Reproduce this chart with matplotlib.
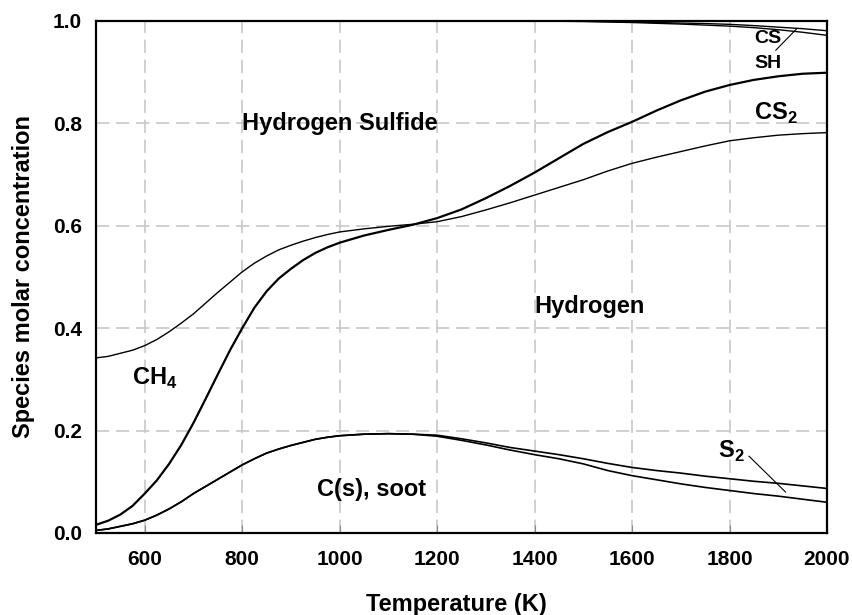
import numpy as np
import matplotlib.pyplot as plt

plt.rcParams['font.family'] = ['Liberation Sans', 'DejaVu Sans']
plt.rcParams['font.weight'] = 'bold'
plt.rcParams['mathtext.fontset'] = 'custom'
plt.rcParams['mathtext.rm'] = 'Liberation Sans:bold'
plt.rcParams['mathtext.bf'] = 'Liberation Sans:bold'

# temperature grid (K): finer where the curves bend most
temp = list(range(500, 1000, 25)) + list(range(1000, 2001, 50))

# cumulative molar fractions, bottom to top
soot = [0.005, 0.008, 0.013, 0.018, 0.025, 0.035, 0.047, 0.061, 0.077, 0.091,
        0.105, 0.119, 0.133, 0.145, 0.156, 0.164, 0.171, 0.177, 0.183, 0.187, 0.190,
        0.193, 0.194, 0.193, 0.189, 0.181, 0.172, 0.162, 0.153, 0.145, 0.135,
        0.122, 0.112, 0.104, 0.096, 0.089, 0.083, 0.077, 0.072, 0.066, 0.060]
s2_top = [0.005, 0.008, 0.013, 0.018, 0.025, 0.035, 0.047, 0.061, 0.077, 0.091,
          0.105, 0.119, 0.133, 0.145, 0.156, 0.164, 0.171, 0.177, 0.183, 0.187, 0.190,
          0.193, 0.194, 0.193, 0.191, 0.184, 0.176, 0.167, 0.160, 0.153, 0.145,
          0.136, 0.128, 0.122, 0.117, 0.111, 0.106, 0.101, 0.097, 0.092, 0.087]
steep = [0.016, 0.024, 0.036, 0.053, 0.077, 0.103, 0.135, 0.172, 0.215, 0.262,
         0.310, 0.357, 0.400, 0.440, 0.472, 0.497, 0.516, 0.533, 0.547, 0.558, 0.567,
         0.581, 0.592, 0.602, 0.615, 0.632, 0.654, 0.678, 0.704, 0.732, 0.760,
         0.783, 0.803, 0.825, 0.845, 0.862, 0.875, 0.885, 0.892, 0.897, 0.899]
upper = [0.342, 0.345, 0.351, 0.357, 0.366, 0.378, 0.393, 0.410, 0.428, 0.449,
         0.470, 0.490, 0.510, 0.527, 0.541, 0.553, 0.562, 0.570, 0.577, 0.583, 0.588,
         0.594, 0.599, 0.603, 0.608, 0.618, 0.631, 0.645, 0.660, 0.675, 0.690,
         0.707, 0.722, 0.734, 0.745, 0.756, 0.766, 0.772, 0.777, 0.780, 0.782]
cs_top = [1.0] * 28 + [1.0, 1.0, 0.9995, 0.999, 0.998, 0.997, 0.996, 0.995,
                       0.9935, 0.991, 0.988, 0.985, 0.981]
sh_top = [1.0] * 28 + [1.0, 0.9995, 0.999, 0.998, 0.997, 0.9955, 0.994, 0.992,
                       0.990, 0.987, 0.983, 0.978, 0.972]

xticks = [600, 800, 1000, 1200, 1400, 1600, 1800, 2000]
yticks = [0.0, 0.2, 0.4, 0.6, 0.8, 1.0]

fig = plt.figure(figsize=(8.52, 6.15), dpi=100)
ax = fig.add_axes([96 / 852, 1 - 533 / 615, 731 / 852, 512 / 615])

ax.plot(temp, soot, color='black', lw=1.2)
ax.plot(temp, s2_top, color='black', lw=1.2)
ax.plot(temp, steep, color='black', lw=1.6)
ax.plot(temp, upper, color='black', lw=1.0)
ax.plot(temp, cs_top, color='black', lw=1.0)
ax.plot(temp, sh_top, color='black', lw=1.0)

ax.set_xlim(500, 2000)
ax.set_ylim(0, 1.0)
ax.set_xticks(xticks)
ax.set_yticks(yticks)
ax.set_yticklabels([f'{v:.1f}' for v in yticks])
ax.grid(True, color='#c8c8c8', lw=1.2, dashes=(8, 4))
ax.set_axisbelow(True)
ax.tick_params(axis='x', direction='in', length=6, color='#888888', labelsize=15, pad=12)
ax.tick_params(axis='y', length=0, labelsize=15, pad=10)
for sp in ax.spines.values():
    sp.set_linewidth(1.6)

ax.set_xlabel('Temperature (K)', fontsize=17, fontweight='bold')
ax.set_ylabel('Species molar concentration', fontsize=17, fontweight='bold')
ax.xaxis.label.set_va('baseline')
ax.xaxis.set_label_coords(0.493, -0.152)
ax.yaxis.set_label_coords(-0.083, 0.5)

# region labels
ax.text(800, 0.80, 'Hydrogen Sulfide', fontsize=17, va='center', ha='left')
ax.text(1400, 0.442, 'Hydrogen', fontsize=17, va='center', ha='left')
ax.text(573, 0.301, 'CH$_4$', fontsize=17, va='center', ha='left')
ax.text(1066, 0.084, 'C(s), soot', fontsize=17, va='center', ha='center')
ax.text(1850, 0.819, 'CS$_2$', fontsize=17, va='center', ha='left')
ax.text(1776, 0.159, 'S$_2$', fontsize=17, va='center', ha='left')
ax.text(1850, 0.966, 'CS', fontsize=14, va='center', ha='left')
ax.text(1850, 0.917, 'SH', fontsize=14, va='center', ha='left')
ax.plot([1840, 1915], [0.150, 0.080], color='black', lw=0.8)
ax.plot([1895, 1938], [0.943, 0.985], color='black', lw=0.8)

fig.savefig('out.png', dpi=100)
